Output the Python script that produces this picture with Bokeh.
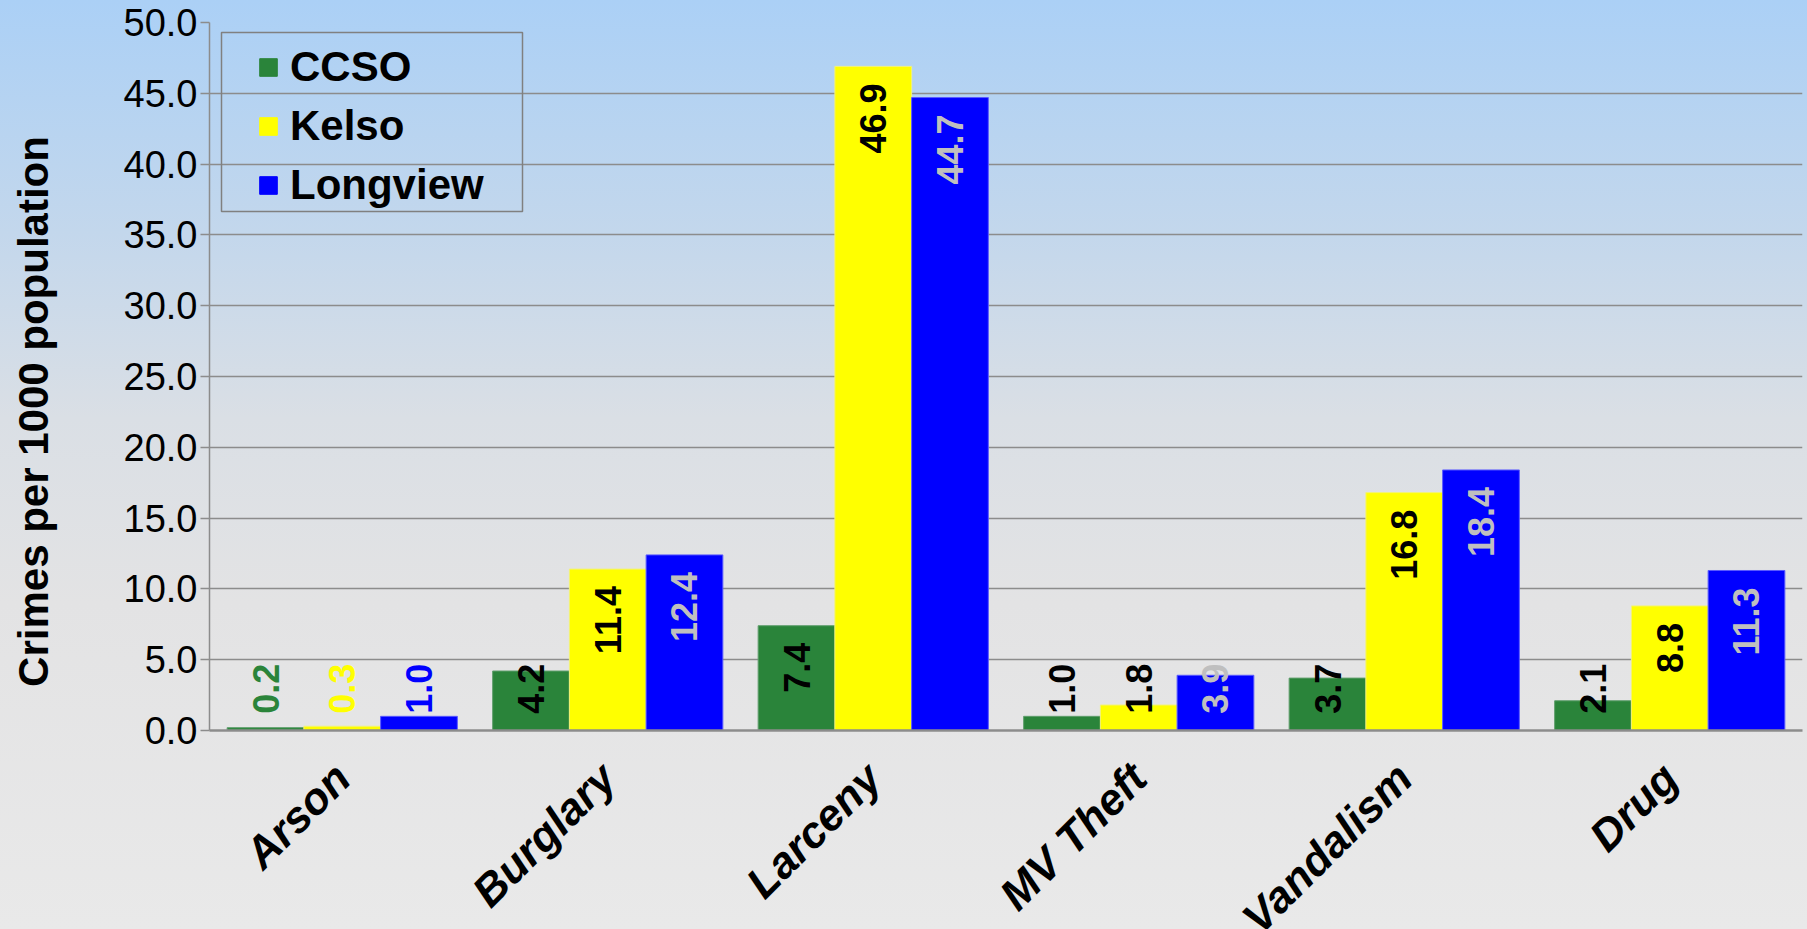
import math
from bokeh.plotting import figure
from bokeh.models import (ColumnDataSource, FactorRange, Range1d, FixedTicker,
                          NumeralTickFormatter, Legend, LegendItem, BoxAnnotation,
                          GlobalInlineStyleSheet)
from bokeh.transform import dodge
from bokeh.core.properties import value
from bokeh.embed import file_html
from bokeh.resources import INLINE

# ---------------- data ----------------
categories = ["Arson", "Burglary", "Larceny", "MV Theft", "Vandalism", "Drug"]
series_names = ["CCSO", "Kelso", "Longview"]
ccso = [0.2, 4.2, 7.4, 1.0, 3.7, 2.1]
kelso = [0.3, 11.4, 46.9, 1.8, 16.8, 8.8]
longview = [1.0, 12.4, 44.7, 3.9, 18.4, 11.3]
y_ticks = [0, 5, 10, 15, 20, 25, 30, 35, 40, 45, 50]
y_title = "Crimes per 1000 population"

# ---------------- styles ----------------
FONT = "Liberation Sans"
bar_colors = ["#2a843a", "#ffff00", "#0000ff"]
edge_colors = ["#5f9e6c", "#f2f27a", "#5a5aff"]
label_colors = [
    ["#2a843a", "black", "black", "black", "black", "black"],
    ["#ffff00", "black", "black", "black", "black", "black"],
    ["#0000ff", "#bfbfbf", "#bfbfbf", "#bfbfbf", "#bfbfbf", "#bfbfbf"],
]
BAR_W = 0.289
offsets = [-BAR_W, 0.0, BAR_W]
INSIDE_MIN = 5.0     # bars at least this tall get the label inside the end
SHORT_ANCHOR = 4.72  # anchor for labels of short bars
GRID = "#8c8c8c"
FRAME_W, FRAME_H = 1593, 708

css = GlobalInlineStyleSheet(css="""
html, body { margin: 0; padding: 0; overflow: hidden; }
html { min-height: 100%;
  background: linear-gradient(to bottom, #abd0f6 0%, #c3d7ec 25%, #dadfe5 45%,
                              #e3e3e4 65%, #e9e9e9 100%) no-repeat; }
body { background: transparent; }
""")

p = figure(x_range=FactorRange(factors=categories, range_padding=0),
           y_range=Range1d(0, 50),
           frame_width=FRAME_W, frame_height=FRAME_H,
           min_border_left=209, min_border_right=5, min_border_top=22, min_border_bottom=20,
           output_backend="svg", toolbar_location=None)
p.stylesheets = [css]
p.background_fill_alpha = 0
p.border_fill_alpha = 0
p.outline_line_color = None

series_vals = [ccso, kelso, longview]
legend_items = []
for i, (name, vals) in enumerate(zip(series_names, series_vals)):
    ly = [v if v >= INSIDE_MIN else SHORT_ANCHOR for v in vals]
    yoff = [17 if v >= INSIDE_MIN else 0 for v in vals]
    src = ColumnDataSource(dict(x=categories, top=vals,
                                label=[f"{v:.1f}" for v in vals],
                                ly=ly, yoff=yoff, tc=label_colors[i]))
    p.vbar(x=dodge("x", offsets[i], range=p.x_range), top="top", width=BAR_W,
           bottom=0, source=src, fill_color=bar_colors[i],
           line_color=edge_colors[i], line_width=1)
    p.text(x=dodge("x", offsets[i], range=p.x_range), y="ly", text="label",
           source=src, angle=math.pi / 2, text_align="right", text_baseline="middle",
           y_offset="yoff", text_color="tc", text_font=value(FONT),
           text_font_style="bold", text_font_size="36px")
    # helper renderer for the legend swatch only (its point lies below the visible range)
    r = p.scatter(x=[categories[0]], y=[-10], marker="square", fill_color=bar_colors[i],
                  line_color=bar_colors[i])
    legend_items.append(LegendItem(label=name, renderers=[r]))

# legend entries (no border) + separate frame box
LEG_PAD, ROW_H, ROW_GAP = 3, 48, 11
leg_h = 2 * LEG_PAD + 3 * ROW_H + 2 * ROW_GAP
legend = Legend(items=legend_items, location=(37, FRAME_H - 15 - leg_h), margin=0,
                padding=LEG_PAD, spacing=ROW_GAP, glyph_width=44, glyph_height=ROW_H,
                label_height=ROW_H, label_standoff=0, label_width=200,
                label_text_font=FONT, label_text_font_style="bold",
                label_text_font_size="42px", label_text_color="black",
                label_text_baseline="middle",
                background_fill_alpha=0, border_line_color=None)
p.add_layout(legend)
box = BoxAnnotation(left=12, right=313, top=FRAME_H - 10, bottom=FRAME_H - 189,
                    left_units="screen", right_units="screen",
                    top_units="screen", bottom_units="screen",
                    fill_color=None, fill_alpha=0, line_color="#808080",
                    line_width=1.5, line_alpha=1.0, level="overlay")
p.add_layout(box)

# y axis
p.yaxis.ticker = FixedTicker(ticks=y_ticks)
p.yaxis.formatter = NumeralTickFormatter(format="0.0")
p.yaxis.major_label_text_font = FONT
p.yaxis.major_label_text_font_size = "38px"
p.yaxis.major_label_text_color = "black"
p.yaxis.major_tick_out = 9
p.yaxis.major_tick_in = 0
p.yaxis.minor_tick_line_color = None
p.yaxis.major_tick_line_color = GRID
p.yaxis.major_tick_line_width = 1.5
p.yaxis.axis_line_color = GRID
p.yaxis.axis_line_width = 1.5
p.yaxis.major_label_standoff = 3
# trailing no-break spaces shift the centred title a little toward the bottom
p.yaxis.axis_label = y_title + "\u00a0" * 6
p.yaxis.axis_label_text_font = FONT
p.yaxis.axis_label_text_font_style = "bold"
p.yaxis.axis_label_text_font_size = "42px"
p.yaxis.axis_label_text_color = "black"
p.yaxis.axis_label_standoff = 64

# x axis
p.xaxis.major_label_orientation = math.pi / 4
p.xaxis.major_label_text_font = FONT
p.xaxis.major_label_text_font_style = "bold italic"
p.xaxis.major_label_text_font_size = "44px"
p.xaxis.major_label_text_color = "black"
p.xaxis.major_tick_line_color = None
p.xaxis.major_tick_out = 0
p.xaxis.major_tick_in = 0
p.xaxis.minor_tick_line_color = None
p.xaxis.axis_line_color = GRID
p.xaxis.axis_line_width = 2.5
p.xaxis.major_label_standoff = 40

p.xgrid.visible = False
p.ygrid.grid_line_color = GRID
p.ygrid.grid_line_width = 1.5

open("out.html", "w").write(file_html(p, INLINE))
